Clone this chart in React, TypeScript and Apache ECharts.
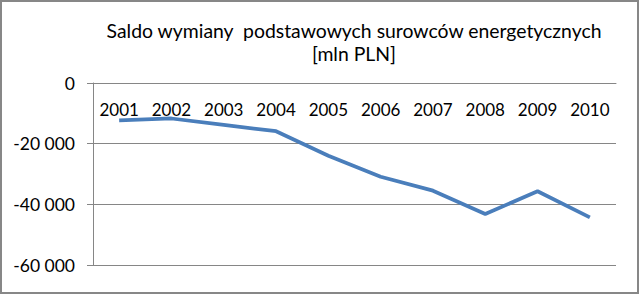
import React, { useEffect, useRef } from "react";
import * as echarts from "echarts";

const titleLines = ["Saldo wymiany  podstawowych surowców energetycznych", "[mln PLN]"];
const years = ["2001", "2002", "2003", "2004", "2005", "2006", "2007", "2008", "2009", "2010"];
const saldo = [-12300, -11700, -13800, -15900, -24000, -30900, -35500, -43200, -35700, -44300];
const yMin = -60000;
const yMax = 0;
const yStep = 20000;

const fmt = (v: number) => {
  const s = Math.abs(v).toString().replace(/\B(?=(\d{3})+(?!\d))/g, " ");
  return (v < 0 ? "-" : "") + s;
};

export default function App() {
  const ref = useRef<HTMLDivElement>(null);
  useEffect(() => {
    document.body.style.margin = "0";
    const chart = echarts.init(ref.current!, null, { renderer: "svg" });
    const gray = "#868686";
    chart.setOption({
      animation: false,
      backgroundColor: "#fff",
      textStyle: { fontFamily: "Lato" },
      title: {
        text: titleLines.join("\n"),
        left: 349,
        top: 14,
        textAlign: "center",
        textStyle: { fontFamily: "Lato", fontSize: 19.4, fontWeight: "normal", color: "#000", lineHeight: 23 },
      },
      graphic: [
        {
          type: "rect",
          shape: { x: 1, y: 1, width: 637, height: 292 },
          style: { fill: "none", stroke: "#878787", lineWidth: 2 },
          silent: true,
        },
      ],
      grid: { left: 93, right: 23, top: 83, bottom: 29 },
      xAxis: {
        type: "category",
        position: "top",
        data: years,
        boundaryGap: true,
        axisLine: { lineStyle: { color: gray, width: 1 } },
        axisTick: { inside: true, length: 5, lineStyle: { color: gray } },
        axisLabel: { inside: true, margin: 18, color: "#000", fontSize: 17, fontFamily: "Lato", verticalAlign: "top", interval: 0 },
        splitLine: { show: false },
      },
      yAxis: {
        type: "value",
        min: yMin,
        max: yMax,
        interval: yStep,
        axisLine: { show: true, lineStyle: { color: gray, width: 1 } },
        axisTick: { show: true, length: 6, lineStyle: { color: gray } },
        axisLabel: { margin: 18, color: "#000", fontSize: 17.5, fontFamily: "Lato", formatter: (v: number) => fmt(v) },
        splitLine: { show: true, lineStyle: { color: gray, width: 1 } },
      },
      series: [
        {
          type: "line",
          data: saldo,
          showSymbol: false,
          symbol: "none",
          lineStyle: { color: "#4A7EBB", width: 3.75 },
          itemStyle: { color: "#4A7EBB" },
        },
      ],
    });
    return () => chart.dispose();
  }, []);
  return <div ref={ref} style={{ width: 639, height: 294 }} />;
}
